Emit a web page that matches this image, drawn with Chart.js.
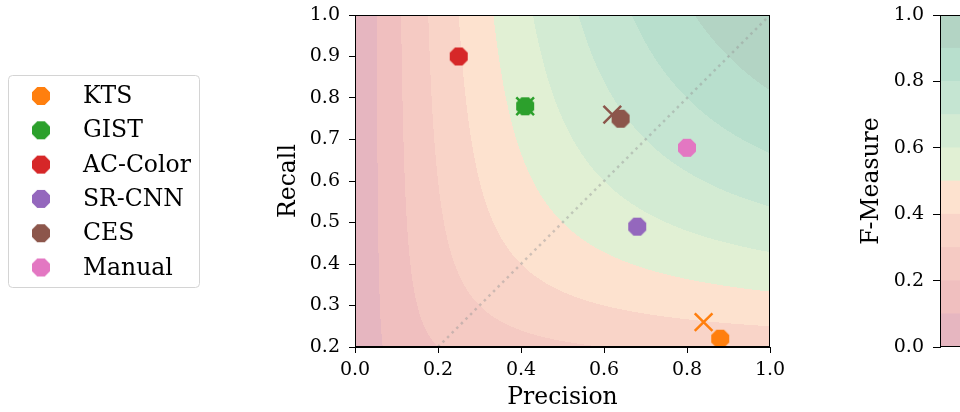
<!DOCTYPE html>
<html>
<head>
<meta charset="utf-8">
<script src="https://cdn.jsdelivr.net/npm/chart.js@4.4.1/dist/chart.umd.min.js"></script>
<style>
  html, body { margin: 0; padding: 0; background: #fff; overflow: hidden; }
  #wrap { position: relative; width: 960px; height: 412px; }
  #mainBox { position: absolute; left: 0; top: 0; width: 840px; height: 412px; }
  #barBox { position: absolute; left: 840px; top: 0; width: 120px; height: 412px; }
</style>
</head>
<body>
<div id="wrap">
  <div id="mainBox"><canvas id="mainChart"></canvas></div>
  <div id="barBox"><canvas id="barChart"></canvas></div>
</div>
<script>
// methods and their precision / recall
const methods = ['KTS', 'GIST', 'AC-Color', 'SR-CNN', 'CES', 'Manual'];
const methodColors = ['#ff7f0e', '#2ca02c', '#d62728', '#9467bd', '#8c564b', '#e377c2'];
const precision = [0.88, 0.41, 0.25, 0.68, 0.64, 0.80];
const recall = [0.22, 0.78, 0.90, 0.49, 0.75, 0.68];

// second set of results (x markers), null where there is none
const crossPrecision = [0.84, 0.41, null, null, 0.62, null];
const crossRecall = [0.26, 0.78, null, null, 0.76, null];

// dotted diagonal P = R
const diagX = [0.2, 1.0];
const diagY = [0.2, 1.0];

// F-measure contour levels and fill colours
const fLevels = [0.0, 0.1, 0.2, 0.3, 0.4, 0.5, 0.6, 0.7, 0.8, 0.9, 1.0];
const fColors = ['#e6b6c0', '#f0bfbf', '#f5cac3', '#f9d4c8', '#fde2cf',
                 '#e1f0d4', '#d3ebd3', '#c5e5d2', '#b8dfcd', '#b3d4c4'];

// tick labels
const xTicks = [0.0, 0.2, 0.4, 0.6, 0.8, 1.0];
const yTicks = [0.2, 0.3, 0.4, 0.5, 0.6, 0.7, 0.8, 0.9, 1.0];
const cbTicks = [0.0, 0.2, 0.4, 0.6, 0.8, 1.0];

const FONT = "'DejaVu Serif', serif";
Chart.defaults.font.family = FONT;
Chart.defaults.color = '#000';

function octagon(color, size) {
    const c = document.createElement('canvas');
    const s = Math.ceil(size) + 2;
    c.width = s;
    c.height = s;
    const g = c.getContext('2d');
    const r = size / 2 / Math.cos(Math.PI / 8);
    g.beginPath();
    for (let k = 0; k < 8; k++) {
        const a = Math.PI / 8 + k * Math.PI / 4;
        const px = s / 2 + r * Math.cos(a);
        const py = s / 2 + r * Math.sin(a);
        if (k === 0) g.moveTo(px, py); else g.lineTo(px, py);
    }
    g.closePath();
    g.fillStyle = color;
    g.fill();
    return c;
}

const markers = methodColors.map(c => octagon(c, 18));

function hexToRgb(h) {
    const n = parseInt(h.slice(1), 16);
    return [(n >> 16) & 255, (n >> 8) & 255, n & 255];
}

// fills the plot area with the F-measure bands, pixel by pixel through the scales
const contourFill = {
    id: 'contourFill',
    beforeDatasetsDraw(chart) {
        const { ctx, chartArea, scales } = chart;
        const left = Math.round(chartArea.left);
        const top = Math.round(chartArea.top);
        const w = Math.round(chartArea.right) - left;
        const h = Math.round(chartArea.bottom) - top;
        const off = document.createElement('canvas');
        off.width = w;
        off.height = h;
        const octx = off.getContext('2d');
        const img = octx.createImageData(w, h);
        const rgb = fColors.map(hexToRgb);
        for (let j = 0; j < h; j++) {
            const r = scales.y.getValueForPixel(top + j + 0.5);
            for (let i = 0; i < w; i++) {
                const p = scales.x.getValueForPixel(left + i + 0.5);
                const f = (p + r) > 0 ? 2 * p * r / (p + r) : 0;
                let band = 0;
                while (band < fColors.length - 1 && f >= fLevels[band + 1]) band++;
                const idx = (j * w + i) * 4;
                img.data[idx] = rgb[band][0];
                img.data[idx + 1] = rgb[band][1];
                img.data[idx + 2] = rgb[band][2];
                img.data[idx + 3] = 255;
            }
        }
        octx.putImageData(img, 0, 0);
        ctx.drawImage(off, left, top);
    },
    afterDraw(chart) {
        const { ctx, chartArea } = chart;
        ctx.save();
        ctx.strokeStyle = '#000';
        ctx.lineWidth = 1;
        ctx.strokeRect(Math.round(chartArea.left) + 0.5, Math.round(chartArea.top) + 0.5,
            Math.round(chartArea.right - chartArea.left) - 1, Math.round(chartArea.bottom - chartArea.top) - 1);
        ctx.restore();
    }
};

const legendBox = {
    id: 'legendBox',
    afterDraw(chart) {
        const ctx = chart.ctx;
        ctx.save();
        ctx.beginPath();
        ctx.roundRect(8.5, 75.5, 191, 212, 4);
        ctx.fillStyle = 'rgba(255,255,255,0.8)';
        ctx.fill();
        ctx.strokeStyle = '#d4d4d4';
        ctx.lineWidth = 1;
        ctx.stroke();
        ctx.font = '23.5px ' + FONT;
        ctx.fillStyle = '#000';
        ctx.textBaseline = 'middle';
        methods.forEach((m, i) => {
            const yy = 96 + i * 34.3;
            ctx.drawImage(markers[i], 41 - markers[i].width / 2, yy - markers[i].height / 2);
            ctx.fillText(m, 83, yy + 1);
        });
        ctx.restore();
    }
};

const circleSets = methods.map((m, i) => ({
    label: m,
    data: [{ x: precision[i], y: recall[i] }],
    pointStyle: markers[i],
    pointRadius: 9,
    order: 0
}));

const crossSets = methods.map((m, i) => ({
    label: m + ' x',
    data: crossPrecision[i] == null ? [] : [{ x: crossPrecision[i], y: crossRecall[i] }],
    pointStyle: 'crossRot',
    pointRadius: 12.5,
    borderColor: methodColors[i],
    backgroundColor: methodColors[i],
    borderWidth: 2.5,
    order: 1
}));

const diagSet = {
    label: 'P = R',
    data: diagX.map((v, i) => ({ x: v, y: diagY[i] })),
    showLine: true,
    borderColor: 'rgba(150,150,150,0.45)',
    borderWidth: 2.5,
    borderDash: [2.5, 4],
    pointRadius: 0,
    order: 2
};

const tickFont = { size: 19, family: FONT };
const titleFont = { size: 23.5, family: FONT };

function fixVertical(width) {
    return s => {
        s.width = width;
        s.paddingTop = 0;
        s.paddingBottom = 0;
    };
}

new Chart(document.getElementById('mainChart'), {
    type: 'scatter',
    data: { datasets: [...circleSets, ...crossSets, diagSet] },
    options: {
        responsive: true,
        maintainAspectRatio: false,
        animation: false,
        layout: { padding: { left: 275, right: 70, top: 15, bottom: 0 } },
        plugins: { legend: { display: false }, tooltip: { enabled: false } },
        scales: {
            x: {
                type: 'linear',
                min: 0,
                max: 1,
                afterBuildTicks: s => { s.ticks = xTicks.map(v => ({ value: v })); },
                afterFit: s => { s.height = 65; },
                ticks: { font: tickFont, color: '#000', padding: 6, maxRotation: 0,
                         callback: v => v.toFixed(1) },
                grid: { drawOnChartArea: false, drawTicks: true, tickLength: 6, color: '#000' },
                border: { display: true, color: '#000' },
                title: { display: true, text: 'Precision', font: titleFont, color: '#000', padding: { top: 0, bottom: 0 } }
            },
            y: {
                type: 'linear',
                min: 0.2,
                max: 1.0,
                afterBuildTicks: s => { s.ticks = yTicks.map(v => ({ value: v })); },
                afterFit: fixVertical(80),
                ticks: { font: tickFont, color: '#000', padding: 9,
                         callback: v => v.toFixed(1) },
                grid: { drawOnChartArea: false, drawTicks: true, tickLength: 6, color: '#000' },
                border: { display: true, color: '#000' },
                title: { display: true, text: 'Recall', font: titleFont, color: '#000', padding: 0 }
            }
        }
    },
    plugins: [contourFill, legendBox]
});

// colourbar: stacked bar of the F-measure bands
const bandWidths = fColors.map((c, i) => fLevels[i + 1] - fLevels[i]);

const cbFrame = {
    id: 'cbFrame',
    afterDraw(chart) {
        const { ctx, chartArea } = chart;
        ctx.save();
        ctx.strokeStyle = '#000';
        ctx.lineWidth = 1;
        ctx.strokeRect(Math.round(chartArea.left) + 0.5, Math.round(chartArea.top) + 0.5,
            Math.round(chartArea.right - chartArea.left) + 5, Math.round(chartArea.bottom - chartArea.top) - 1);
        ctx.restore();
    }
};

new Chart(document.getElementById('barChart'), {
    type: 'bar',
    data: {
        labels: ['F'],
        datasets: fColors.map((c, i) => ({
            label: fLevels[i].toFixed(1),
            data: [bandWidths[i]],
            backgroundColor: c,
            barPercentage: 1,
            categoryPercentage: 1
        }))
    },
    options: {
        responsive: true,
        maintainAspectRatio: false,
        animation: false,
        layout: { padding: { left: 18, right: 0, top: 15, bottom: 65 } },
        plugins: { legend: { display: false }, tooltip: { enabled: false } },
        scales: {
            x: { stacked: true, display: false },
            y: {
                stacked: true,
                min: 0,
                max: 1,
                afterBuildTicks: s => { s.ticks = cbTicks.map(v => ({ value: v })); },
                afterFit: fixVertical(82),
                ticks: { font: tickFont, color: '#000', padding: 9, callback: v => v.toFixed(1) },
                grid: { drawOnChartArea: false, drawTicks: true, tickLength: 7, color: '#000' },
                border: { display: true, color: '#000' },
                title: { display: true, text: 'F-Measure', font: titleFont, color: '#000', padding: 0 }
            }
        }
    },
    plugins: [cbFrame]
});
</script>
</body>
</html>
